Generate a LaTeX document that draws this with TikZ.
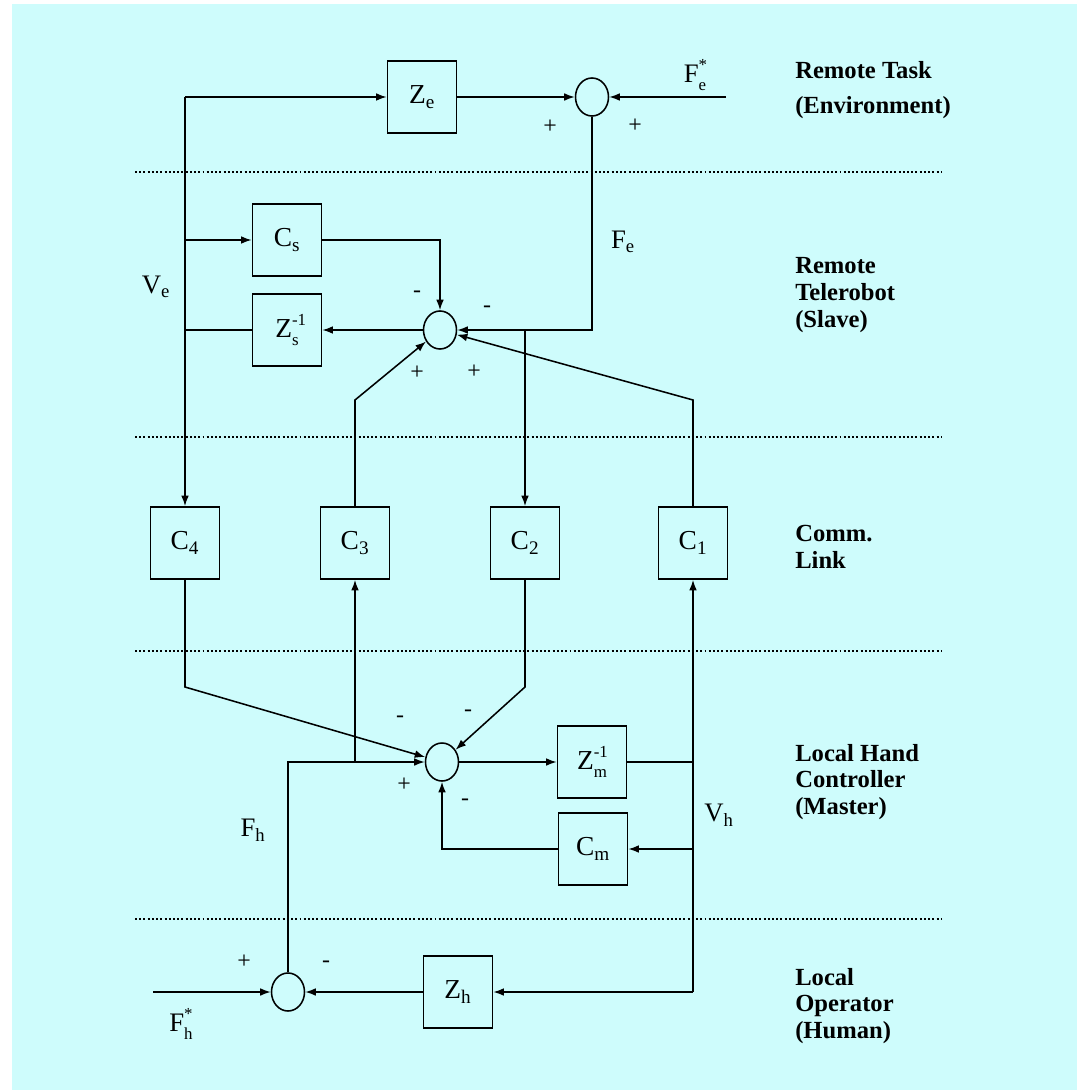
\documentclass[tikz,border=0pt]{standalone}
\usepackage{fontspec}
\setmainfont{Liberation Serif}
\usetikzlibrary{shapes.geometric,arrows.meta}
\definecolor{bgcyan}{RGB}{206,252,252}
\newcommand{\supsub}[3]{#1\rlap{\raisebox{0.95ex}{\fontsize{12}{12}\selectfont #2}}\raisebox{-0.65ex}{\fontsize{12}{12}\selectfont #3}}
\begin{document}
\begin{tikzpicture}[x=0.025cm,y=-0.025cm,
  blk/.style={draw,line width=1.2pt,minimum width=1.725cm,minimum height=1.8cm,inner sep=0pt,font=\fontsize{19.5}{22}\selectfont},
  sumnode/.style={draw,ellipse,line width=1.1pt,minimum width=0.825cm,minimum height=0.95cm,inner sep=0pt},
  arr/.style={line width=1.1pt,-{Latex[length=7.5pt,width=5.5pt]}},
  wire/.style={line width=1.1pt},
  sep/.style={line width=1.5pt,dash pattern=on 1.4pt off 1.6pt},
  sgn/.style={font=\fontsize{17}{17}\selectfont,inner sep=0pt},
  lab/.style={font=\fontsize{19}{22}\selectfont,inner sep=0pt},
  side/.style={font=\fontsize{17.5}{19}\selectfont\bfseries,align=left,anchor=west,inner sep=0pt}]
\useasboundingbox (0,0) rectangle (1077,1090);
\fill[white] (0,0) rectangle (1077,1090);
\fill[bgcyan] (12,4) rectangle (1077,1090);

% separators
\foreach \yy/\nm in {172/d1,437/d2,651/d3,919/d4}{
  \coordinate (\nm a) at (135,\yy);
  \coordinate (\nm b) at (942,\yy);
  \draw[sep] (\nm a) -- (\nm b);
}

% ---------- Remote task ----------
\node[blk] (ze) at (422,97) {Z\textsubscript{e}};
\node[sumnode] (se) at (592,97) {};
\coordinate (tl) at (185,97);
\coordinate (fein) at (726,97);
\node[lab] (felab) at (695,75) {\supsub{F}{*}{e}};
\node[sgn] (p1) at (550,127) {+};
\node[sgn] (p2) at (635,126) {+};

% ---------- Slave ----------
\node[blk] (cs) at (287,240) {C\textsubscript{s}};
\node[blk] (zs) at (287,330) {\supsub{Z}{-1}{s}};
\node[sumnode] (ss) at (440,330) {};
\coordinate (csv) at (185,240);
\coordinate (zsv) at (185,330);
\coordinate (fec) at (592,330);
\coordinate (c2t) at (525,330);
\coordinate (c3k) at (355,400);
\coordinate (c1k) at (693,400);
\node[lab] (felab2) at (623,242) {F\textsubscript{e}};
\node[lab] (velab) at (156,287) {V\textsubscript{e}};
\node[sgn] (m1) at (417,294) {-};
\node[sgn] (m2) at (487,309) {-};
\node[sgn] (p3) at (417,373) {+};
\node[sgn] (p4) at (474,372) {+};

% ---------- Comm link ----------
\node[blk] (c4) at (185,543) {C\textsubscript{4}};
\node[blk] (c3) at (355,543) {C\textsubscript{3}};
\node[blk] (c2) at (525,543) {C\textsubscript{2}};
\node[blk] (c1) at (693,543) {C\textsubscript{1}};

% ---------- Master ----------
\node[sumnode] (sm) at (442,762) {};
\node[blk] (zm) at (592,762) {\supsub{Z}{-1}{m}};
\node[blk] (cm) at (593,849) {C\textsubscript{m}};
\coordinate (c4k) at (185,687);
\coordinate (c2k) at (525,687);
\coordinate (fhk) at (288,762);
\coordinate (c3b) at (355,762);
\coordinate (vhz) at (693,762);
\coordinate (vhc) at (693,849);
\coordinate (vhb) at (693,992);
\node[lab] (fhlab) at (253,830) {F\textsubscript{h}};
\node[lab] (vhlab) at (719,815) {V\textsubscript{h}};
\node[sgn] (m3) at (400,719) {-};
\node[sgn] (m4) at (468,713) {-};
\node[sgn] (p5) at (404,785) {+};
\node[sgn] (m5) at (465,802) {-};

% ---------- Operator ----------
\node[sumnode] (so) at (288,992) {};
\node[blk] (zh) at (458,992) {Z\textsubscript{h}};
\coordinate (fhin) at (153,992);
\node[lab] (fhslab) at (181,1024) {\supsub{F}{*}{h}};
\node[sgn] (p6) at (244,962) {+};
\node[sgn] (m6) at (326,964) {-};

% ---------- connectors ----------
\draw[arr] (tl) -- (ze);
\draw[arr] (ze) -- (se);
\draw[arr] (fein) -- (se);
\draw[arr] (tl) -- (c4);
\draw[arr] (csv) -- (cs);
\draw[arr] (cs.east) -| (ss.north);
\draw[arr] (ss) -- (zs);
\draw[wire] (zs.west) -- (zsv);
\draw[arr] (se) -- (fec) -- (ss);
\draw[arr] (c2t) -- (c2);
\draw[arr] (c3) -- (c3k) -- (ss);
\draw[arr] (c1) -- (c1k) -- (ss);
\draw[arr] (c4) -- (c4k) -- (sm);
\draw[arr] (c2) -- (c2k) -- (sm);
\draw[arr] (so) -- (fhk) -- (sm);
\draw[arr] (c3b) -- (c3);
\draw[arr] (sm) -- (zm);
\draw[wire] (zm) -- (vhz);
\draw[arr] (vhb) -- (c1);
\draw[arr] (vhc) -- (cm);
\draw[arr] (cm.west) -| (sm.south);
\draw[arr] (vhb) -- (zh);
\draw[arr] (fhin) -- (so);
\draw[arr] (zh) -- (so);

% ---------- side labels ----------
\node[side] (t1) at (795,90) {Remote Task\\[6pt](Environment)};
\node[side] (t2) at (795,295) {Remote\\Telerobot\\(Slave)};
\node[side] (t3) at (795,547) {Comm.\\Link};
\node[side] (t4) at (795,782) {Local Hand\\Controller\\(Master)};
\node[side] (t5) at (795,1006) {Local\\Operator\\(Human)};
\end{tikzpicture}
\end{document}
